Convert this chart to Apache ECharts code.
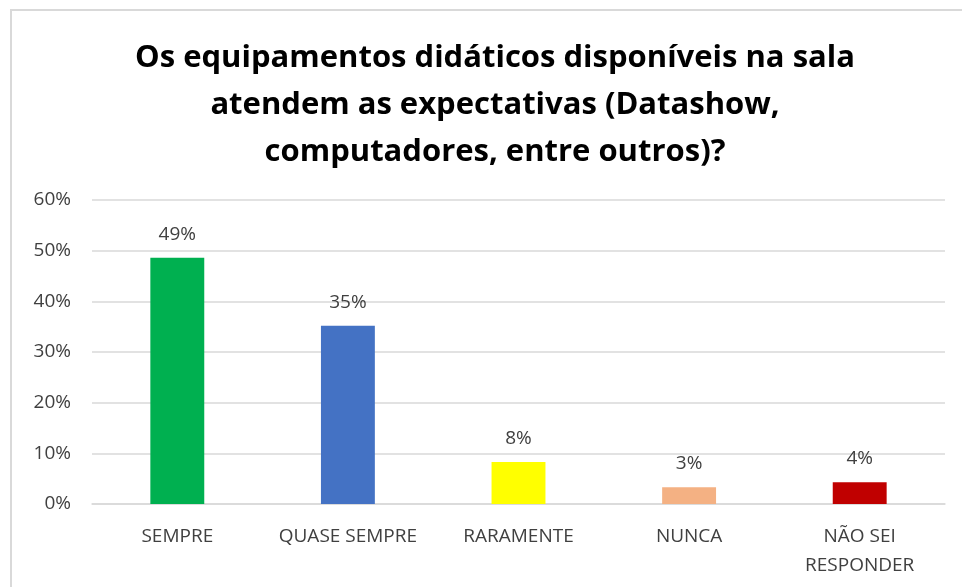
<!DOCTYPE html>
<html lang="pt">
<head>
<meta charset="UTF-8">
<title>Equipamentos didáticos</title>
<script src="https://cdn.jsdelivr.net/npm/echarts@6/dist/echarts.min.js"></script>
<style>
html, body { margin: 0; padding: 0; background: #fff; }
#chart { width: 962px; height: 587px; }
</style>
</head>
<body>
<div id="chart"></div>
<script>
// dados
var categorias = ['SEMPRE', 'QUASE SEMPRE', 'RARAMENTE', 'NUNCA', 'NÃO SEI\nRESPONDER'];
var valores = [0.486, 0.352, 0.083, 0.033, 0.043];
var cores = ['#00B050', '#4472C4', '#FFFF00', '#F4B183', '#C00000'];
var titulo = 'Os equipamentos didáticos disponíveis na sala\natendem as expectativas (Datashow,\ncomputadores, entre outros)?';

var oChart = echarts.init(document.getElementById('chart'), null, {renderer: 'canvas'});

var fonte = '"Open Sans", "Noto Sans", sans-serif';

oChart.setOption({
    animation: false,
    backgroundColor: '#fff',
    title: {
        text: titulo,
        left: 490,
        top: 30,
        textAlign: 'center',
        textStyle: {
            fontFamily: fonte,
            fontWeight: 'bold',
            fontSize: 31,
            lineHeight: 47,
            color: '#000'
        }
    },
    graphic: [{
        type: 'rect',
        shape: {x: 11, y: 10, width: 1000, height: 1000},
        style: {fill: 'none', stroke: '#d9d9d9', lineWidth: 2},
        silent: true
    }],
    grid: {left: 92, right: 17, top: 200, bottom: 83},
    xAxis: {
        type: 'category',
        data: categorias,
        axisTick: {show: false},
        axisLine: {lineStyle: {color: '#d9d9d9', width: 1.5}},
        axisLabel: {
            fontFamily: fonte,
            fontSize: 19,
            color: '#404040',
            margin: 18,
            lineHeight: 29,
            interval: 0
        }
    },
    yAxis: {
        type: 'value',
        min: 0,
        max: 0.6,
        interval: 0.1,
        axisLine: {show: false},
        axisTick: {show: false},
        splitLine: {lineStyle: {color: '#d9d9d9', width: 1.5}},
        axisLabel: {
            fontFamily: fonte,
            fontSize: 19,
            color: '#404040',
            margin: 21,
            formatter: function (v) { return Math.round(v * 100) + '%'; }
        }
    },
    series: [{
        type: 'bar',
        barWidth: '31.6%',
        data: valores.map(function (v, i) {
            return {value: v, itemStyle: {color: cores[i]}};
        }),
        label: {
            show: true,
            position: 'top',
            distance: 14,
            fontFamily: fonte,
            fontSize: 19,
            color: '#404040',
            formatter: function (p) { return Math.round(p.value * 100) + '%'; }
        }
    }]
});
</script>
</body>
</html>
